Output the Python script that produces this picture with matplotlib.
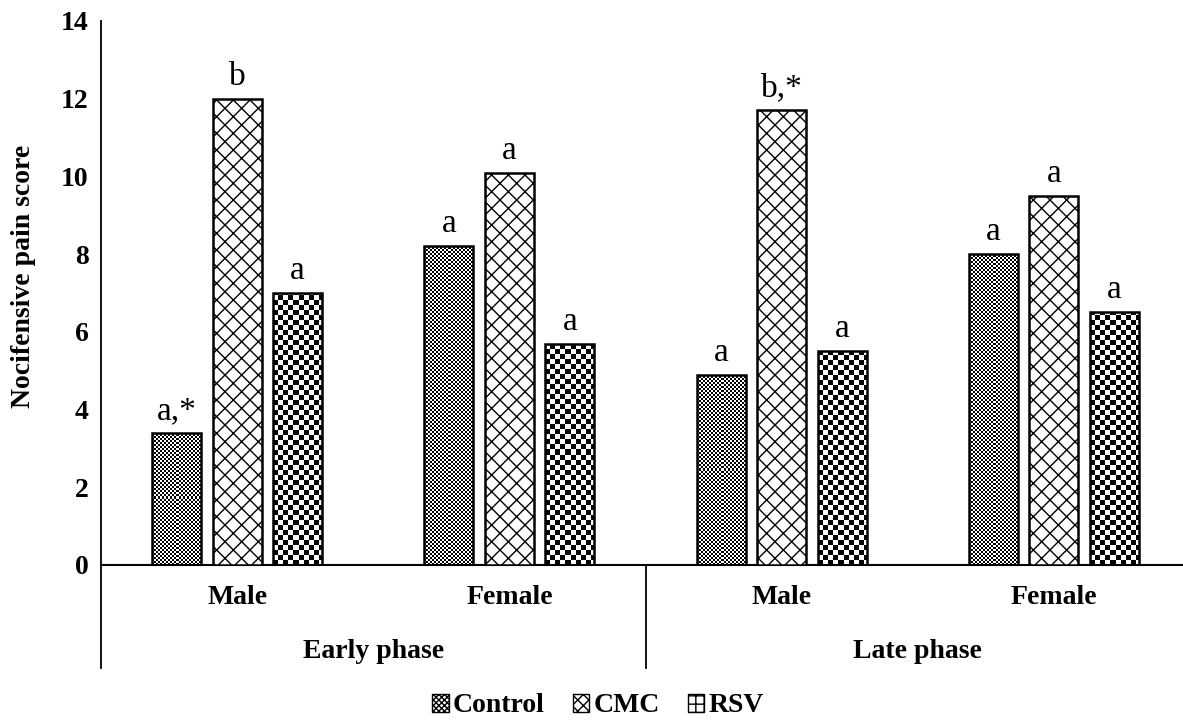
#!/usr/bin/env python3
"""Nocifensive pain score by phase / sex / treatment (grouped bars)."""
import numpy as np
import matplotlib
matplotlib.use("Agg")
import matplotlib.pyplot as plt
from matplotlib.patches import Patch
from matplotlib.lines import Line2D

plt.rcParams["font.family"] = ["Liberation Serif", "DejaVu Serif"]

# ---- data ----
sexes = ["Male", "Female", "Male", "Female"]
phases = ["Early phase", "Late phase"]
series = ["Control", "CMC", "RSV"]
control = [3.4, 8.2, 4.9, 8.0]
cmc = [12.0, 10.1, 11.7, 9.5]
rsv = [7.0, 5.7, 5.5, 6.5]
letters_control = ["a,*", "a", "a", "a"]
letters_cmc = ["b", "a", "b,*", "a"]
letters_rsv = ["a", "a", "a", "a"]
yticks = [0, 2, 4, 6, 8, 10, 12, 14]

W, H, DPI = 1183, 723, 100
AX_L, AX_R, AX_B, AX_T = 101, 1190, 565, 21  # pixel frame of the plot area
YMAX = 14
px_per_y = (AX_B - AX_T) / YMAX
px_per_x = (AX_R - AX_L) / 4
bar_w = 0.18
step = 0.222
FS = 20


def checker(nrows, ncols, cell):
    i = np.arange(nrows)[:, None] // cell
    j = np.arange(ncols)[None, :] // cell
    return ((i + j) % 2).astype(float)


fig = plt.figure(figsize=(W / DPI, H / DPI), dpi=DPI)
ax = fig.add_axes([AX_L / W, 1 - AX_B / H, (AX_R - AX_L) / W, (AX_B - AX_T) / H])

x = np.arange(len(sexes))
styles = [("checker", 2), ("hatch", "xx"), ("checker", 5)]
for k, (vals, labs) in enumerate(zip([control, cmc, rsv],
                                     [letters_control, letters_cmc, letters_rsv])):
    kind, arg = styles[k]
    xs = x + (k - 1) * step
    if kind == "hatch":
        bars = ax.bar(xs, vals, bar_w, color="white", edgecolor="black",
                      hatch=arg, linewidth=1.8, zorder=3)
    else:
        bars = ax.bar(xs, vals, bar_w, facecolor="none", edgecolor="black",
                      linewidth=1.8, zorder=3)
        for b in bars:
            h = b.get_height()
            nr = max(1, int(round(h * px_per_y)))
            nc = int(round(bar_w * px_per_x))
            im = ax.imshow(checker(nr, nc, arg), cmap="gray", vmin=0, vmax=1,
                           interpolation="nearest", origin="lower", aspect="auto",
                           extent=(b.get_x(), b.get_x() + bar_w, 0, h), zorder=2)
            im.set_clip_path(b)
    for xi, v, t in zip(xs, vals, labs):
        ax.text(xi, v + 0.18, t, ha="center", va="bottom", fontsize=24)

ax.set_xlim(-0.5, 3.5)
ax.set_ylim(0, YMAX)
ax.set_yticks(yticks)
ax.set_yticklabels([str(t) for t in yticks], fontsize=FS, fontweight="bold")
ax.tick_params(axis="y", length=0, pad=9)
ax.set_xticks([])
for s in ("top", "right", "left"):
    ax.spines[s].set_visible(False)
ax.spines["bottom"].set_linewidth(1.5)

ext = -(668 - AX_B) / (AX_B - AX_T)
ax.add_line(Line2D([0, 0], [ext, 1], transform=ax.transAxes, color="black",
                   linewidth=1.3, clip_on=False))
ax.add_line(Line2D([0.5, 0.5], [ext, 0], transform=ax.transAxes, color="black",
                   linewidth=1.3, clip_on=False))

tr = ax.get_xaxis_transform()
for xi, s in zip(x, sexes):
    ax.text(xi, -(597 - AX_B) / (AX_B - AX_T), s, transform=tr, ha="center",
            va="center", fontsize=FS, fontweight="bold")
for i, p in enumerate(phases):
    ax.text(0.5 + 2 * i, -(652 - AX_B) / (AX_B - AX_T), p, transform=tr,
            ha="center", va="center", fontsize=FS, fontweight="bold")

ax.set_ylabel("Nocifensive pain score", fontsize=FS, fontweight="bold")
ax.yaxis.set_label_coords(-(AX_L - 36) / (AX_R - AX_L), 0.53)

handles = [Patch(facecolor="white", edgecolor="black", hatch="xxxxxx"),
           Patch(facecolor="white", edgecolor="black", hatch="xxx"),
           Patch(facecolor="white", edgecolor="black", hatch="++")]
leg = fig.legend(handles, series, loc="center", bbox_to_anchor=(598 / W, 1 - 706 / H),
                 ncol=3, frameon=False, handlelength=0.6, handleheight=0.6,
                 handletextpad=0.15, columnspacing=1.0,
                 prop={"size": FS, "weight": "bold"})

fig.savefig("out.png", dpi=DPI)
